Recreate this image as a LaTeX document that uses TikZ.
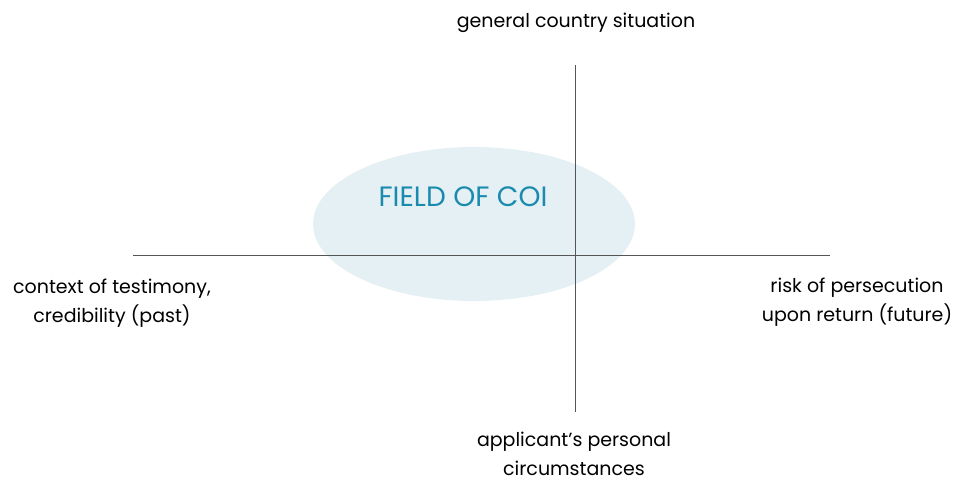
\documentclass[tikz,border=0pt]{standalone}
\usepackage{fontspec}
\setmainfont{Poppins}
\usetikzlibrary{shapes.geometric}
\definecolor{axisgray}{HTML}{555555}
\definecolor{fieldfill}{HTML}{E4F0F4}
\definecolor{fieldtext}{HTML}{1A8BAE}
\tikzset{
  axis/.style={draw=axisgray, line width=1pt},
  lbl/.style={align=center, font=\fontsize{19}{29}\selectfont, text=black, inner sep=0pt},
  field/.style={ellipse, fill=fieldfill, draw=none, minimum width=322pt, minimum height=154pt, inner sep=0pt}
}
\begin{document}
\begin{tikzpicture}[x=1pt,y=-1pt]
\useasboundingbox (0,0) rectangle (961,480);
\node[field] (fieldell) at (474,224) {};
\node[font=\fontsize{28}{32}\selectfont, text=fieldtext, inner sep=0pt] (fieldlbl) at (463,197) {FIELD OF COI};
\coordinate (vtop) at (575,65);
\coordinate (vbot) at (575,412);
\coordinate (hleft) at (133,255);
\coordinate (hright) at (830,255);
\draw[axis] (vtop) -- (vbot);
\draw[axis] (hleft) -- (hright);
\node[lbl] (top) at (576,23) {general country situation};
\node[lbl] (left) at (112,303) {context of testimony,\\credibility (past)};
\node[lbl] (right) at (857,302) {risk of persecution\\upon return (future)};
\node[lbl] (bottom) at (574,454) {applicant’s personal\\circumstances};
\end{tikzpicture}
\end{document}
